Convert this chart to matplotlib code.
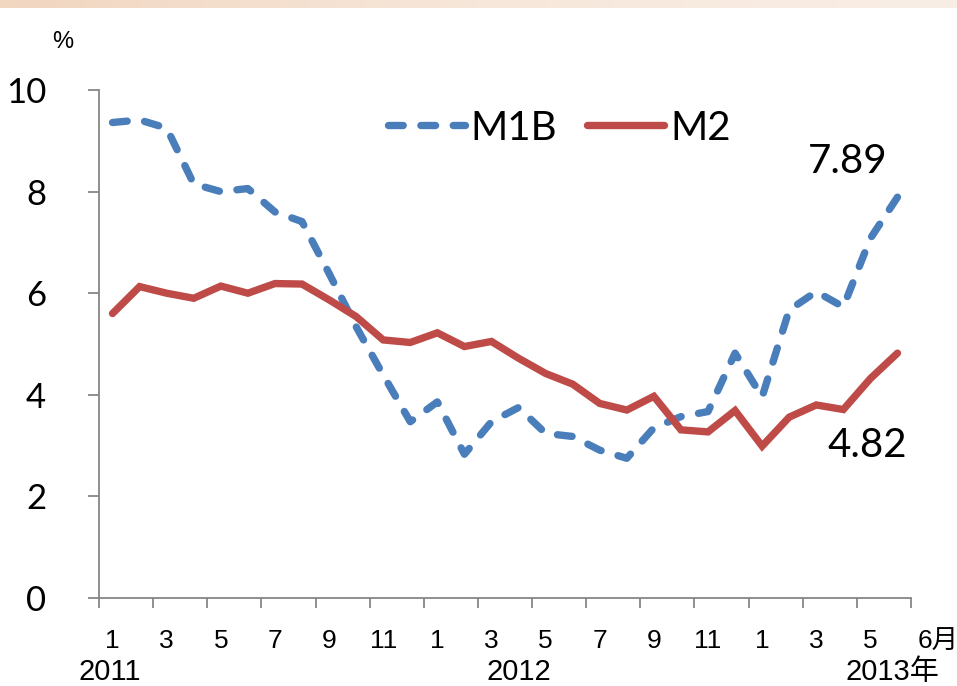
import numpy as np
import matplotlib
matplotlib.use("Agg")
from matplotlib import pyplot as plt
from matplotlib.lines import Line2D

# 货币供应量年增率 (%), 2011年1月 - 2013年6月
m1b = [9.36, 9.41, 9.25, 8.15, 8.00, 8.06, 7.60, 7.41, 6.39, 5.34,
       4.39, 3.47, 3.86, 2.83, 3.47, 3.75, 3.24, 3.18, 2.91, 2.75,
       3.35, 3.57, 3.67, 4.82, 3.96, 5.67, 6.03, 5.73, 7.08, 7.89]
m2 = [5.60, 6.13, 6.00, 5.90, 6.14, 6.00, 6.19, 6.18, 5.87, 5.54,
      5.08, 5.03, 5.22, 4.95, 5.05, 4.72, 4.42, 4.21, 3.83, 3.70,
      3.97, 3.31, 3.27, 3.69, 2.99, 3.56, 3.80, 3.71, 4.32, 4.82]
month_labels = ['1', '3', '5', '7', '9', '11', '1', '3', '5', '7', '9', '11', '1', '3', '5']
years = ['2011', '2012', '2013年']
year_pos = [-0.09, 15, 28.83]

blue = '#4a7ebb'
red = '#be4b48'
axis_gray = '#868686'
cjk = ['Liberation Sans', 'Noto Sans CJK SC']
num_font = ['Lato', 'DejaVu Sans']
lw = 5.3
dash_on = 2.0
dash_off = 2.45

fig = plt.figure(figsize=(9.57, 6.86), dpi=100)

# peach strip along the top edge
band = fig.add_axes([0, 1 - 8 / 686, 1, 8 / 686])
grad = np.linspace(0, 1, 256).reshape(1, -1)
band.imshow(grad, aspect='auto', cmap=matplotlib.colors.LinearSegmentedColormap.from_list(
    'band', ['#f1d6c0', '#f7e7da', '#f9eee6']))
band.axis('off')

ax = fig.add_axes([99 / 957, 1 - 598 / 686, (911 - 99) / 957, (598 - 90) / 686])
x = np.arange(len(m1b))
ax.set_xlim(-0.5, len(m1b) - 0.5)
ax.set_ylim(0, 10)

# stretch the gaps a little so the dashed line starts and ends on a dash
pix = ax.transData.transform(np.column_stack([x, m1b]))
path_len = np.hypot(*np.diff(pix, axis=0).T).sum() / (lw * fig.dpi / 72)
n_per = round((path_len - dash_on) / (dash_on + dash_off))
dash_off = (path_len - dash_on) / n_per - dash_on
dash = (dash_on, dash_off)

ax.plot(x, m1b, color=blue, lw=lw, dashes=dash, dash_capstyle='round',
        solid_joinstyle='round', clip_on=False, zorder=3)
ax.plot(x, m2, color=red, lw=lw, solid_capstyle='round', solid_joinstyle='miter',
        clip_on=False, zorder=4)

for s in ['top', 'right']:
    ax.spines[s].set_visible(False)
for s in ['left', 'bottom']:
    ax.spines[s].set_color(axis_gray)
    ax.spines[s].set_linewidth(1.3)

ax.set_yticks([0, 2, 4, 6, 8, 10])
ax.set_yticklabels(['0', '2', '4', '6', '8', '10'], fontsize=25, family=num_font)
ax.tick_params(axis='y', length=8, width=1.3, color=axis_gray, pad=30)

# tick marks between categories, month labels on the categories
ax.set_xticks(np.arange(-0.5, len(m1b), 2))
ax.set_xticklabels([])
ax.tick_params(axis='x', which='major', length=7, width=1.3, color=axis_gray)
ax.set_xticks(np.arange(0, len(m1b) - 1, 2), minor=True)
ax.set_xticklabels(month_labels, minor=True, fontsize=19, family=cjk)
ax.tick_params(axis='x', which='minor', length=0, pad=22)

ax.text(30.49, -0.86, '6月', ha='center', va='center', fontsize=19, family=cjk,
        clip_on=False)
for lab, p in zip(years, year_pos):
    ax.text(p, -1.46, lab, ha='center', va='center', fontsize=21, family=cjk,
            clip_on=False)

fig.text(63 / 957, 1 - 42 / 686, '%', ha='center', va='center', fontsize=17,
         family=cjk)

ax.annotate(f'{m1b[-1]:.2f}', xy=(x[-1], m1b[-1]), xytext=(-50, 36),
            textcoords='offset pixels', ha='center', va='center',
            fontsize=29, family=num_font)
ax.annotate(f'{m2[-1]:.2f}', xy=(x[-1], m2[-1]), xytext=(-30, -92),
            textcoords='offset pixels', ha='center', va='center',
            fontsize=29, family=num_font)

handles = [Line2D([], [], color=blue, lw=lw, dashes=dash, dash_capstyle='round'),
           Line2D([], [], color=red, lw=lw, solid_capstyle='round')]
leg = fig.legend(handles, ['M1B', 'M2'], ncol=2, frameon=False, loc='center left',
                 bbox_to_anchor=(388 / 957, 1 - 128 / 686), borderpad=0,
                 borderaxespad=0, handlelength=1.9, handletextpad=0.15,
                 columnspacing=0.75, prop={'family': num_font, 'size': 29})

fig.savefig('out.png', dpi=100)
